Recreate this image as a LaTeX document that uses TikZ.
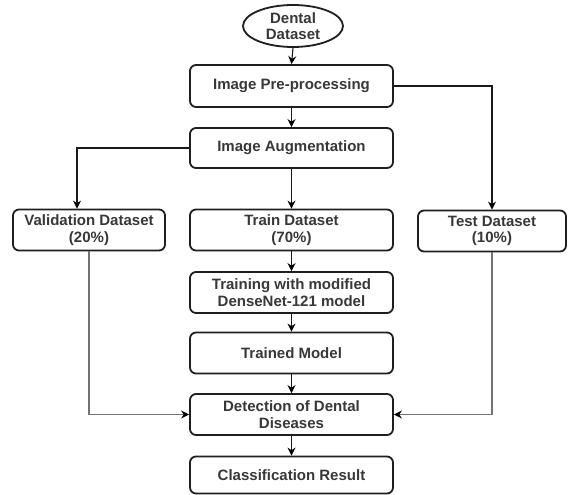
\documentclass[tikz,border=0pt]{standalone}
\usepackage{fontspec}
\setmainfont{Liberation Sans}
\usetikzlibrary{shapes.geometric,arrows.meta}
\begin{document}
\begin{tikzpicture}[x=1pt,y=1pt,
  txt/.style={text=black!78, font=\fontsize{15}{16.5}\selectfont\bfseries, align=center},
  box/.style={txt, draw=black!88, line width=1.8pt, rounded corners=6pt, minimum height=41pt, inner sep=2pt},
  mainbox/.style={box, minimum width=203pt},
  ell/.style={txt, ellipse, draw=black!88, line width=1.8pt, minimum width=100pt, minimum height=42pt, inner sep=0pt, font=\fontsize{15}{15.5}\selectfont\bfseries},
  arr/.style={-{Stealth[length=8pt,width=8pt,black]}, line width=1.1pt, draw=black!90},
  garr/.style={arr, line width=1.5pt, draw=black!55}]
\useasboundingbox[fill=white] (0,0) rectangle (568,-495);

\node[ell] (ds) at (293,-26) {Dental\\Dataset};
\node[mainbox, minimum height=42pt] (pre) at (291.5,-86) {Image Pre-processing};
\node[mainbox, minimum height=40pt] (aug) at (291.5,-148) {Image Augmentation};
\node[mainbox] (train) at (291.5,-230) {Train Dataset\\(70\%)};
\node[mainbox] (trn) at (291.5,-292.5) {Training with modified\\DenseNet-121 model};
\node[mainbox] (tm) at (291.5,-353) {Trained Model};
\node[mainbox] (det) at (291.5,-414.5) {Detection of Dental\\Diseases};
\node[mainbox, minimum height=37pt] (cls) at (291.5,-475) {Classification Result};
\node[box, minimum width=152pt] (val) at (89,-230) {Validation Dataset\\(20\%)};
\node[box, minimum width=148pt] (test) at (492,-231) {Test Dataset\\(10\%)};

\draw[arr] (ds.south) -- (pre.north);
\draw[arr] (pre) -- (aug);
\draw[arr] (aug) -- (train);
\draw[arr] (train) -- (trn);
\draw[arr] (trn) -- (tm);
\draw[arr] (tm) -- (det);
\draw[arr] (det) -- (cls);
\draw[arr] (pre.east) -| (test.north);
\draw[arr] (aug.west) -| ([xshift=-12pt]val.north);
\draw[garr] (val.south) |- (det.west);
\draw[garr] (test.south) |- (det.east);
\end{tikzpicture}
\end{document}
